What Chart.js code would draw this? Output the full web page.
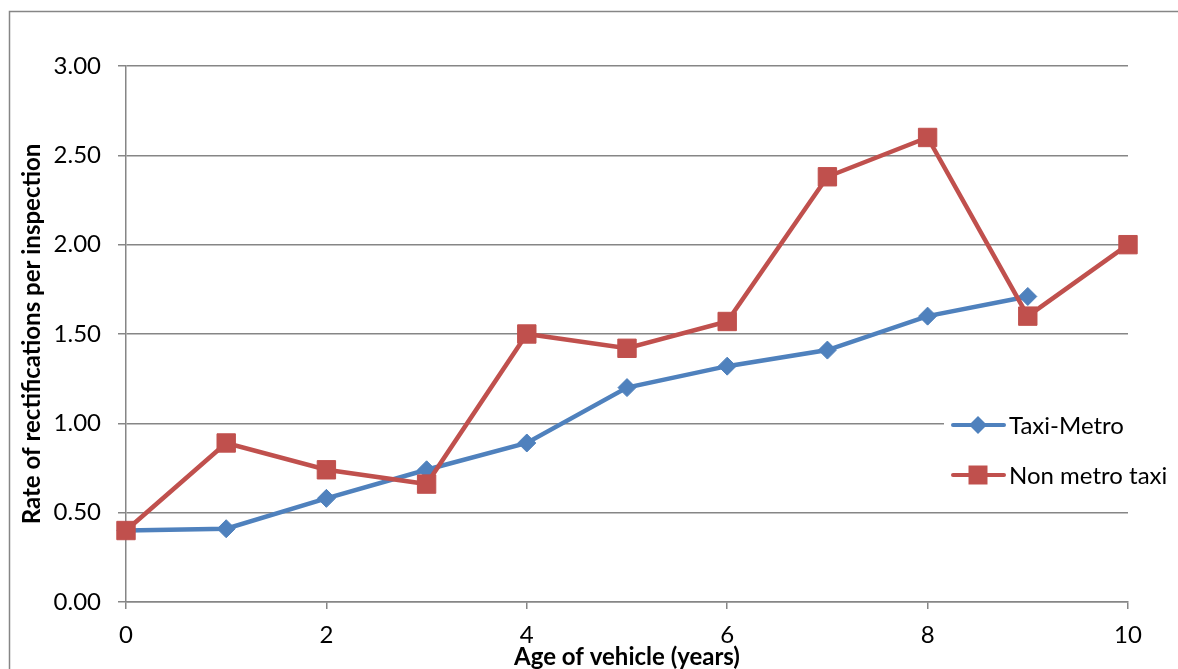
<!DOCTYPE html>
<html>
<head>
<meta charset="utf-8">
<script src="https://cdn.jsdelivr.net/npm/chart.js@4"></script>
<style>
  html, body { margin: 0; padding: 0; background: #fff; }
  #wrap { width: 1178px; height: 669px; position: relative; }
</style>
</head>
<body>
<div id="wrap"><canvas id="c" width="1178" height="669"></canvas></div>
<script>
// Vehicle age in years
const ages = [0, 1, 2, 3, 4, 5, 6, 7, 8, 9, 10];
// Rectifications per inspection, metered taxis (no value at 10 years)
const taxiMetro = [0.40, 0.41, 0.58, 0.74, 0.89, 1.20, 1.32, 1.41, 1.60, 1.71];
// Rectifications per inspection, non-metered taxis
const nonMetroTaxi = [0.40, 0.89, 0.74, 0.66, 1.50, 1.42, 1.57, 2.38, 2.60, 1.60, 2.00];
const seriesNames = ['Taxi-Metro', 'Non metro taxi'];
const yTitle = 'Rate of rectifications per inspection';
const xTitle = 'Age of vehicle (years)';

const BLUE = '#4F81BD';
const RED = '#C0504D';
const GRID = '#868686';
const FONT = 'Lato, "Open Sans", sans-serif';

const toPoints = (vals) => vals.map((v, i) => ({ x: ages[i], y: v }));

// Outer frame around the whole chart
const framePlugin = {
  id: 'frame',
  beforeDraw(chart) {
    const ctx = chart.ctx;
    ctx.save();
    ctx.fillStyle = '#fff';
    ctx.fillRect(0, 0, chart.width, chart.height);
    ctx.strokeStyle = GRID;
    ctx.lineWidth = 1.5;
    ctx.strokeRect(9.5, 11.5, chart.width + 20, chart.height + 20);
    ctx.restore();
  }
};

// Legend with line + marker samples, on a white box over the plot
const lineLegend = {
  id: 'lineLegend',
  afterDraw(chart) {
    const ctx = chart.ctx;
    ctx.save();
    ctx.fillStyle = '#fff';
    ctx.fillRect(944, 398, 232, 102);
    const rows = [425, 475];
    chart.data.datasets.forEach((ds, i) => {
      const y = rows[i];
      ctx.strokeStyle = ds.borderColor;
      ctx.lineWidth = 4;
      ctx.lineCap = 'round';
      ctx.beginPath();
      ctx.moveTo(953, y);
      ctx.lineTo(1004, y);
      ctx.stroke();
      ctx.fillStyle = ds.pointBackgroundColor;
      ctx.beginPath();
      if (ds.pointStyle === 'rectRot') {
        const r = 9;
        ctx.moveTo(978 - r, y);
        ctx.lineTo(978, y - r);
        ctx.lineTo(978 + r, y);
        ctx.lineTo(978, y + r);
        ctx.closePath();
      } else {
        ctx.rect(978 - 9.5, y - 9.5, 19, 19);
      }
      ctx.fill();
      ctx.fillStyle = '#000';
      ctx.font = '24px ' + FONT;
      ctx.textAlign = 'left';
      ctx.textBaseline = 'middle';
      ctx.fillText(ds.label, 1009, y + 1);
    });
    ctx.restore();
  }
};

new Chart(document.getElementById('c'), {
  type: 'line',
  data: {
    datasets: [
      {
        label: seriesNames[0],
        data: toPoints(taxiMetro),
        borderColor: BLUE,
        backgroundColor: BLUE,
        pointBackgroundColor: BLUE,
        pointBorderColor: BLUE,
        borderWidth: 4.5,
        pointStyle: 'rectRot',
        pointRadius: 9,
        pointBorderWidth: 1,
        tension: 0,
        clip: false,
        order: 1
      },
      {
        label: seriesNames[1],
        data: toPoints(nonMetroTaxi),
        borderColor: RED,
        backgroundColor: RED,
        pointBackgroundColor: RED,
        pointBorderColor: RED,
        borderWidth: 4.5,
        pointStyle: 'rect',
        pointRadius: 13,
        pointBorderWidth: 1,
        tension: 0,
        clip: false,
        order: 0
      }
    ]
  },
  options: {
    responsive: false,
    animation: false,
    devicePixelRatio: 1,
    layout: { padding: { top: 66, right: 50, left: 0, bottom: 0 } },
    plugins: {
      legend: { display: false },
      tooltip: { enabled: false }
    },
    scales: {
      x: {
        type: 'linear',
        min: 0,
        max: 10,
        ticks: {
          stepSize: 2,
          color: '#000',
          font: { family: FONT, size: 24 },
          padding: 12,
          maxRotation: 0
        },
        grid: {
          drawOnChartArea: false,
          color: GRID,
          lineWidth: 1.5,
          tickLength: 7
        },
        border: { color: GRID, width: 1.5 },
        title: {
          display: true,
          text: xTitle,
          color: '#000',
          font: { family: FONT, size: 24, weight: 'bold' },
          padding: { top: 0, bottom: -3 }
        },
        afterFit(scale) { scale.height = 67; }
      },
      y: {
        min: 0,
        max: 3,
        ticks: {
          stepSize: 0.5,
          color: '#000',
          font: { family: FONT, size: 24 },
          padding: 17,
          callback: (v) => Number(v).toFixed(2)
        },
        grid: {
          color: GRID,
          lineWidth: 1.5,
          tickLength: 8
        },
        border: { color: GRID, width: 1.5 },
        title: {
          display: true,
          text: yTitle,
          color: '#000',
          font: { family: FONT, size: 24, weight: 'bold' },
          padding: { top: 18, bottom: 0 }
        },
        afterFit(scale) { scale.width = 126; }
      }
    }
  },
  plugins: [framePlugin, lineLegend]
});
</script>
</body>
</html>
